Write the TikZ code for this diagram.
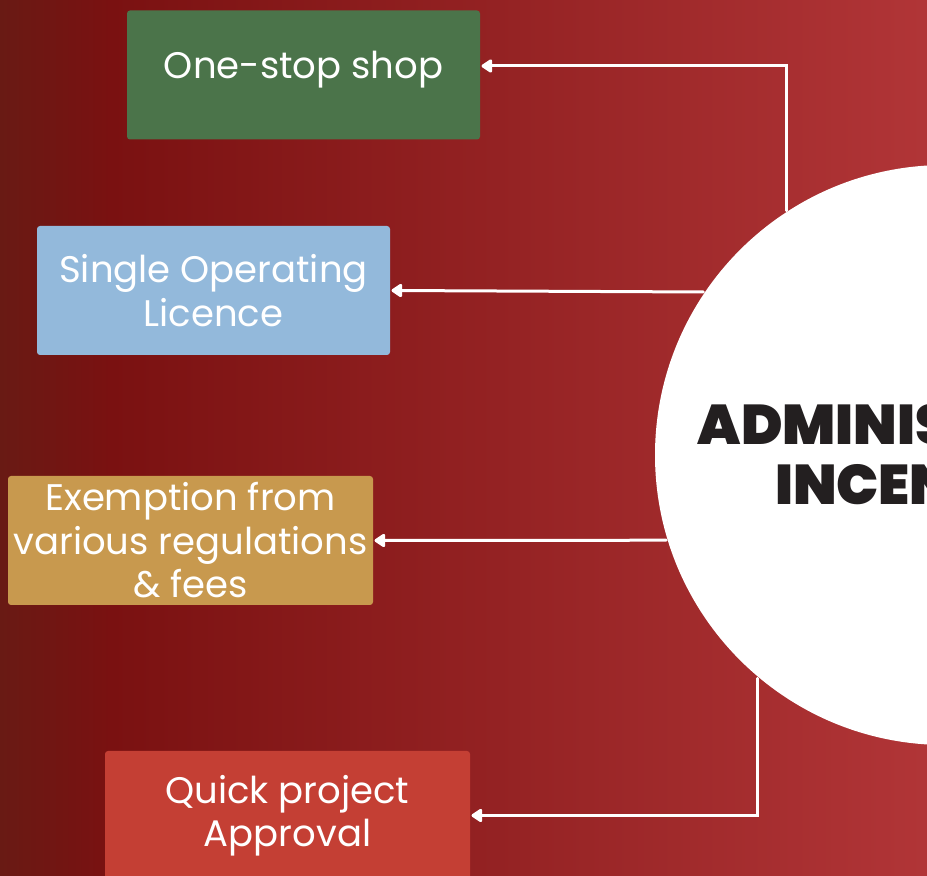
\documentclass[tikz,border=0pt]{standalone}
\usepackage{fontspec}
\setmainfont{Poppins}
\newfontfamily\headfont{Poppins Black}
\usetikzlibrary{arrows.meta,positioning}

\definecolor{bgleft}{HTML}{691A14}
\definecolor{bgdark}{HTML}{7A1111}
\definecolor{bgright}{HTML}{B13537}
\definecolor{shopgreen}{HTML}{4B744A}
\definecolor{licblue}{HTML}{93B9DB}
\definecolor{exmtan}{HTML}{C8994E}
\definecolor{quickred}{HTML}{C43F34}
\definecolor{headink}{HTML}{231F20}

\pgfdeclarehorizontalshading{bgshade}{100bp}{color(0bp)=(bgleft); color(25bp)=(bgleft);
  color(31bp)=(bgdark); color(75bp)=(bgright); color(100bp)=(bgright)}

\begin{document}
\begin{tikzpicture}[
    x = 1pt, y = 1pt, % one unit per pixel
    > = {Triangle[width=15pt,length=12pt,round]}, % arrow head style
    line width = 3pt
    ]

    \tikzset{incbox/.style={
    rounded corners = 3pt,
    text = white,
    align = center,
    inner sep = 0pt,
    minimum height = 129pt,
    font = \fontsize{37}{43.5}\selectfont
    }}
    \tikzset{link/.style={->, draw = white, line cap = round}}

    % background
    \useasboundingbox (0,0) rectangle (927,876);
    \shade[shading=bgshade] (0,0) rectangle (927,876);

    \node[circle, fill = white, minimum size = 580pt, inner sep = 0pt,
    text = headink, align = center,
    font = \fontsize{56}{60}\selectfont\headfont] (admin) at (945,421)
    {ADMINISTRATIVE\\INCENTIVES};

    \node[incbox, fill = shopgreen, minimum width = 353pt] (shop) at (303.5,801)
    {\raisebox{5pt}[\height][\depth]{One-stop shop}};
    \node[incbox, fill = licblue, minimum width = 353pt] (licence) at (213.5,585.5) {Single Operating\\Licence};
    \node[incbox, fill = exmtan, minimum width = 365pt] (exempt) at (190.5,335.5) {Exemption from\\various regulations\\\& fees};
    \node[incbox, fill = quickred, minimum width = 365pt] (quick) at (287.5,60.5) {Quick project\\Approval};

    \draw[link] (admin.123.5) |- ([yshift=9pt]shop.east);
    \draw[link] (admin.146.2) -- (licence.east);
    \draw[link] (admin.197) -- (exempt.east);
    \draw[link] (admin.230.4) |- (quick.east);
\end{tikzpicture}
\end{document}
